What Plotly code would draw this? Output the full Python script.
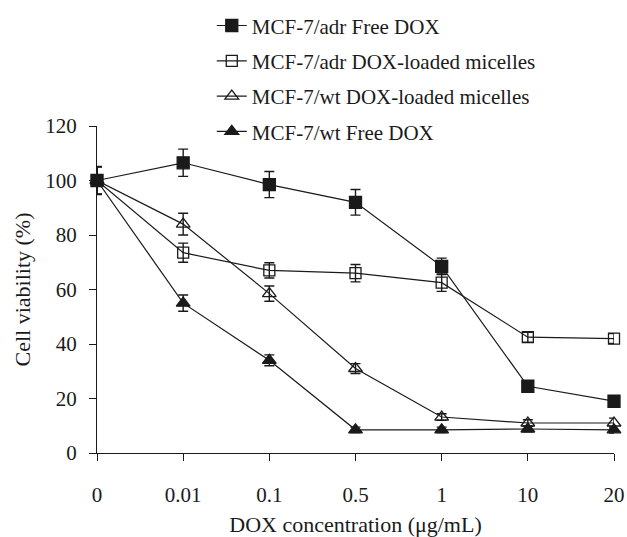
import plotly.graph_objects as go

conc = ["0", "0.01", "0.1", "0.5", "1", "10", "20"]

adr_free = [100, 106.5, 98.5, 92, 68.5, 24.5, 19]
adr_free_err = [5.2, 5, 4.8, 4.7, 3, 1.2, 1.2]
adr_mic = [100, 73.5, 67, 66, 62.5, 42.5, 42]
adr_mic_err = [5, 3.5, 2.8, 3.2, 3.2, 1.8, 1.8]
wt_mic = [100, 84, 58.5, 31, 13.2, 11, 11]
wt_mic_err = [5, 4, 2.8, 1.8, 1.2, 1.2, 1.8]
wt_free = [100, 55, 34, 8.5, 8.5, 8.8, 8.5]
wt_free_err = [5, 3, 2, 1, 1, 1, 1.2]

names = ["MCF-7/adr Free DOX", "MCF-7/adr DOX-loaded micelles",
         "MCF-7/wt DOX-loaded micelles", "MCF-7/wt Free DOX"]
symbols = ["square", "square-open", "triangle-up-open", "triangle-up"]
sizes = [12, 11, 12, 12]
series = [(adr_free, adr_free_err), (adr_mic, adr_mic_err),
          (wt_mic, wt_mic_err), (wt_free, wt_free_err)]

FONT = "Liberation Serif"
INK = "#1a1a1a"

fig = go.Figure()
for i, ((ys, es), nm, sym, sz) in enumerate(zip(series, names, symbols, sizes)):
    fig.add_trace(go.Scatter(
        x=conc, y=ys, name=nm, mode="lines+markers",
        legendgroup=f"g{i}",
        line=dict(color=INK, width=1.2),
        marker=dict(symbol=sym, size=sz, color=INK,
                    line=dict(color=INK, width=1.3)),
        error_y=dict(type="data", array=es, visible=True, color=INK,
                     thickness=1.4, width=5),
        cliponaxis=False,
    ))

fig.update_layout(
    width=627, height=537,
    margin=dict(l=97, r=13, t=126, b=84, autoexpand=False),
    paper_bgcolor="white", plot_bgcolor="white",
    font=dict(family=FONT, size=21, color=INK),
    showlegend=True,
    legend=dict(x=0.222, y=0.99, yref="container", xref="paper",
                xanchor="left", yanchor="top",
                traceorder="grouped", tracegroupgap=5,
                font=dict(family=FONT, size=21, color=INK),
                bgcolor="rgba(0,0,0,0)", itemwidth=30),
    xaxis=dict(type="category", categoryarray=conc, categoryorder="array",
               range=[0, 6], showgrid=False, zeroline=False,
               showline=True, linecolor=INK, linewidth=1.3,
               ticks="outside", ticklen=7, tickcolor=INK, tickwidth=1.3,
               ticklabelstandoff=16, tickfont=dict(family=FONT, size=21),
               title=dict(text="DOX concentration (μg/mL)", standoff=15,
                          font=dict(family=FONT, size=22, color=INK))),
    yaxis=dict(range=[0, 120], dtick=20, showgrid=False, zeroline=False,
               showline=True, linecolor=INK, linewidth=1.3,
               ticks="outside", ticklen=7, tickcolor=INK, tickwidth=1.3,
               ticklabelstandoff=8, tickfont=dict(family=FONT, size=21),
               title=dict(text="Cell viability (%)", standoff=8,
                          font=dict(family=FONT, size=22, color=INK))),
    xaxis2=dict(overlaying="x", range=[0, 6], tickvals=list(range(len(conc))),
                showticklabels=False, showgrid=False, zeroline=False,
                showline=False, ticks="inside", ticklen=7, tickcolor=INK,
                tickwidth=1.3, side="bottom", anchor="y"),
    yaxis2=dict(overlaying="y", range=[0, 120], dtick=20,
                showticklabels=False, showgrid=False, zeroline=False,
                showline=False, ticks="inside", ticklen=7, tickcolor=INK,
                tickwidth=1.3, side="left", anchor="x"),
)

fig.write_html("out.html")
